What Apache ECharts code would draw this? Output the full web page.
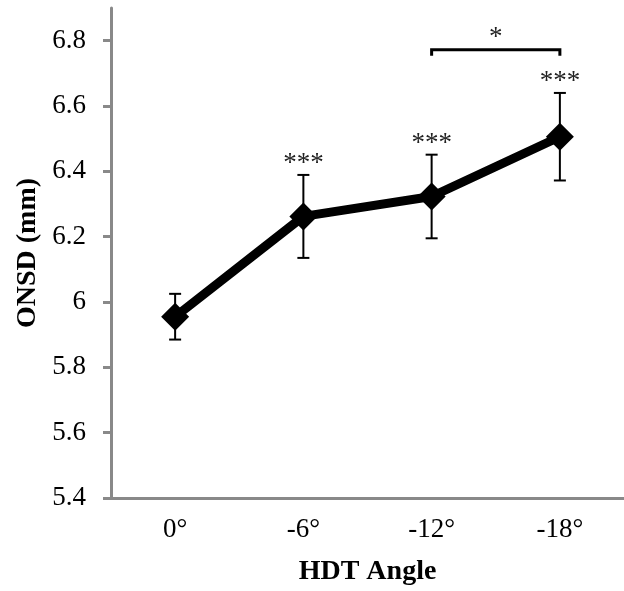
<!DOCTYPE html>
<html>
<head>
<meta charset="utf-8">
<script src="https://cdn.jsdelivr.net/npm/echarts@6/dist/echarts.min.js"></script>
<style>
  html, body { margin: 0; padding: 0; background: #fff; }
  #chart { width: 624px; height: 591px; }
</style>
</head>
<body>
<div id="chart"></div>
<script>
var angles = ['0°', '-6°', '-12°', '-18°'];
var onsd = [5.955, 6.262, 6.323, 6.506];
var sd = [0.07, 0.127, 0.128, 0.134];
var sigLabels = ['', '***', '***', '***'];
var yTicks = [5.4, 5.6, 5.8, 6, 6.2, 6.4, 6.6, 6.8];
// bracket between -12° and -18°
var bracketFrom = 2;
var bracketTo = 3;
var bracketLevel = 6.772;
var bracketLabel = '*';

var axisColor = '#898989';
var serif = '"Liberation Serif", "Times New Roman", serif';

var errData = [];
for (var i = 0; i < onsd.length; i++) {
    errData.push([i, onsd[i] - sd[i], onsd[i] + sd[i]]);
}

var option = {
    animation: false,
    grid: {
        left: 111,
        right: 0,
        top: 8,
        bottom: 88
    },
    xAxis: {
        type: 'category',
        data: angles,
        name: 'HDT Angle',
        nameLocation: 'middle',
        nameGap: 60,
        nameTextStyle: {
            fontFamily: serif,
            fontWeight: 'bold',
            fontSize: 28,
            color: '#000'
        },
        axisLine: { lineStyle: { color: axisColor, width: 3 } },
        axisTick: { alignWithLabel: true, length: 5, lineStyle: { color: axisColor, width: 3 } },
        axisLabel: {
            margin: 18,
            fontFamily: serif,
            fontSize: 27,
            color: '#000'
        }
    },
    yAxis: {
        type: 'value',
        min: 5.4,
        max: 6.9,
        name: 'ONSD (mm)',
        nameLocation: 'middle',
        nameGap: 69,
        nameTextStyle: {
            fontFamily: serif,
            fontWeight: 'bold',
            fontSize: 28,
            color: '#000'
        },
        splitLine: { show: false },
        axisLine: { show: true, lineStyle: { color: axisColor, width: 3 } },
        axisTick: {
            show: true,
            length: 8,
            customValues: yTicks,
            lineStyle: { color: axisColor, width: 3 }
        },
        axisLabel: {
            margin: 25,
            customValues: yTicks,
            fontFamily: serif,
            fontSize: 27,
            color: '#000',
            formatter: function (v) {
                return String(Math.round(v * 10) / 10);
            }
        }
    },
    series: [{
        name: 'err',
        type: 'custom',
        data: errData,
        z: 2,
        renderItem: function (params, api) {
            var lo = api.coord([api.value(0), api.value(1)]);
            var hi = api.coord([api.value(0), api.value(2)]);
            var cap = 6;
            var style = { stroke: '#000', lineWidth: 2 };
            var kids = [
                { type: 'line', shape: { x1: lo[0], y1: lo[1], x2: hi[0], y2: hi[1] }, style: style },
                { type: 'line', shape: { x1: hi[0] - cap, y1: hi[1], x2: hi[0] + cap, y2: hi[1] }, style: style },
                { type: 'line', shape: { x1: lo[0] - cap, y1: lo[1], x2: lo[0] + cap, y2: lo[1] }, style: style }
            ];
            var s = sigLabels[params.dataIndex];
            if (s) {
                kids.push({
                    type: 'text',
                    x: hi[0],
                    y: hi[1] - 11,
                    style: {
                        text: s,
                        fontFamily: serif,
                        fontSize: 27,
                        fill: '#222',
                        align: 'center',
                        verticalAlign: 'middle'
                    }
                });
            }
            return { type: 'group', children: kids };
        }
    }, {
        name: 'ONSD',
        type: 'line',
        data: onsd,
        z: 3,
        symbol: 'diamond',
        symbolSize: 28,
        itemStyle: { color: '#000' },
        lineStyle: { color: '#000', width: 9 }
    }, {
        name: 'bracket',
        type: 'custom',
        data: [[bracketFrom, bracketTo, bracketLevel]],
        z: 2,
        renderItem: function (params, api) {
            var a = api.coord([api.value(0), api.value(2)]);
            var b = api.coord([api.value(1), api.value(2)]);
            var drop = 6;
            return {
                type: 'group',
                children: [{
                    type: 'polyline',
                    shape: { points: [[a[0], a[1] + drop], [a[0], a[1]], [b[0], b[1]], [b[0], b[1] + drop]] },
                    style: { stroke: '#000', lineWidth: 3, fill: null }
                }, {
                    type: 'text',
                    x: (a[0] + b[0]) / 2,
                    y: a[1] - 12,
                    style: {
                        text: bracketLabel,
                        fontFamily: serif,
                        fontSize: 27,
                        fill: '#222',
                        align: 'center',
                        verticalAlign: 'middle'
                    }
                }]
            };
        }
    }]
};

var myChart = echarts.init(document.getElementById('chart'));
myChart.setOption(option);
</script>
</body>
</html>
